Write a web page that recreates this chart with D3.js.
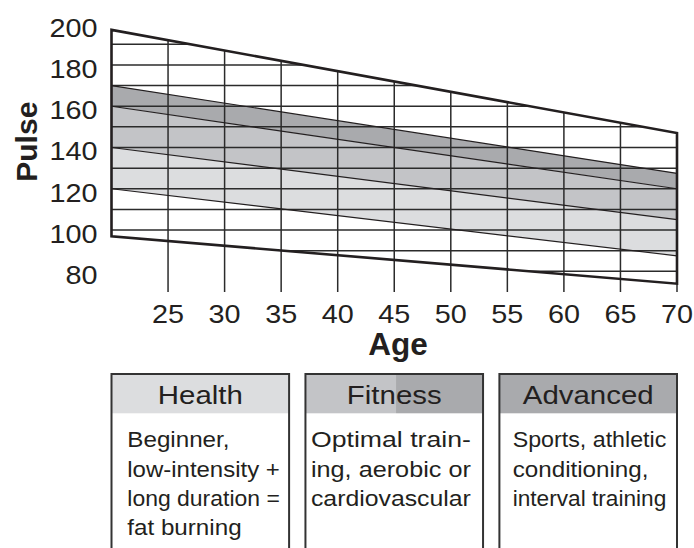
<!DOCTYPE html>
<html>
<head>
<meta charset="utf-8">
<script src="https://cdn.jsdelivr.net/npm/d3@7"></script>
<style>
  html, body { margin: 0; padding: 0; background: #fff; }
  svg { display: block; }
  text { font-family: "Liberation Sans", Arial, Helvetica, sans-serif; fill: #231f20; }
</style>
</head>
<body>
<svg id="chart" width="694" height="548"></svg>
<script>
// Training heart-rate zones by age (pulse in beats per minute)
const ages = [20, 70];
const maxPulse = [197, 147];          // upper limit line
const advancedTop = [170, 127.5];     // top of the advanced zone
const advancedFitness = [160, 120];   // advanced / fitness boundary
const fitnessHealth = [140, 105];     // fitness / health boundary
const healthBottom = [120, 87.5];     // bottom of the health zone
const minPulse = [97, 74];            // lower limit line

const xTicks = [25, 30, 35, 40, 45, 50, 55, 60, 65, 70];
const yTicks = [200, 180, 160, 140, 120, 100, 80];
const gridPulse = [190, 180, 170, 160, 150, 140, 130, 120, 110, 100, 90, 80];

const zoneNames = ["Health", "Fitness", "Advanced"];
const zoneNotes = [
  ["Beginner,", "low-intensity +", "long duration =", "fat burning"],
  ["Optimal train-", "ing, aerobic or", "cardiovascular"],
  ["Sports, athletic", "conditioning,", "interval training"]
];
// lines set flush to both margins of their box
const noteJustify = [
  [false, true, true, false],
  [true, true, true],
  [true, false, true]
];

const colors = { advanced: "#a9aaad", fitness: "#c3c4c7", health: "#dcdddf", ink: "#231f20", grid: "#2b2b2b" };

const svg = d3.select("#chart");
const x = d3.scaleLinear().domain([20, 70]).range([111.5, 677]);
const y = d3.scaleLinear().domain([80, 200]).range([271.3, 23.7]);

// helper: line value at a given age
const at = (arr) => d3.scaleLinear().domain(ages).range(arr);

const pts = (arr) => ages.map((a, i) => [x(a), y(arr[i])]);

// band between two lines
function band(top, bottom, fill) {
  const p = pts(top).concat(pts(bottom).reverse());
  svg.append("path").attr("d", "M" + p.join("L") + "Z").attr("fill", fill);
}

band(advancedTop, advancedFitness, colors.advanced);
band(advancedFitness, fitnessHealth, colors.fitness);
band(fitnessHealth, healthBottom, colors.health);

// clip region between the limit lines
const region = pts(maxPulse).concat(pts(minPulse).reverse());
svg.append("clipPath").attr("id", "zone").append("path").attr("d", "M" + region.join("L") + "Z");

// horizontal grid lines
svg.append("g").attr("clip-path", "url(#zone)")
  .selectAll("line").data(gridPulse).join("line")
  .attr("x1", x(20)).attr("x2", x(70))
  .attr("y1", d => y(d)).attr("y2", d => y(d))
  .attr("stroke", colors.grid).attr("stroke-width", 1.5);

// vertical grid lines, running down past the lower limit as tick marks
const topAt = at(maxPulse);
svg.append("g").selectAll("line").data(xTicks).join("line")
  .attr("x1", d => x(d)).attr("x2", d => x(d))
  .attr("y1", d => y(topAt(d))).attr("y2", 292)
  .attr("stroke", colors.grid).attr("stroke-width", 1.5);

// zone boundary lines
[advancedTop, advancedFitness, fitnessHealth, healthBottom].forEach(arr => {
  svg.append("path").attr("d", "M" + pts(arr).join("L"))
    .attr("stroke", colors.ink).attr("stroke-width", 1.2).attr("fill", "none");
});

// outer frame: limits and side edges
svg.append("path").attr("d", "M" + region.join("L") + "Z")
  .attr("fill", "none").attr("stroke", colors.ink).attr("stroke-width", 2.6)
  .attr("stroke-linejoin", "miter");

// horizontally stretched text helper
function label(g, tx, ty, str, opts) {
  const sx = opts.sx || 1;
  const t = g.append("text")
    .attr("transform", `translate(${tx},${ty}) scale(${sx},1)`)
    .attr("text-anchor", opts.anchor || "start")
    .attr("font-size", opts.size)
    .attr("font-weight", opts.weight || "normal")
    .text(str);
  if (opts.width) t.attr("textLength", opts.width / sx).attr("lengthAdjust", "spacingAndGlyphs");
  return t;
}

// axis tick labels
const ticks = svg.append("g");
xTicks.forEach(t => label(ticks, x(t), 323.3, t, { anchor: "middle", size: 25.5, sx: 1.13 }));
yTicks.forEach(t => label(ticks, 97.5, y(t) + 12.8, t, { anchor: "end", size: 25.5, sx: 1.13 }));

// axis titles
svg.append("text").attr("transform", "translate(36.5,141.7) rotate(-90)")
  .attr("text-anchor", "middle").attr("font-size", 30).attr("font-weight", "bold").text("Pulse");
svg.append("text").attr("x", 398).attr("y", 355)
  .attr("text-anchor", "middle").attr("font-size", 31.5).attr("font-weight", "bold").text("Age");

// zone legend boxes
const boxW = 177.6, boxGap = (x(70) - x(20) - 3 * boxW) / 2;
const boxTop = 374, headH = 39.3;
const notePadL = [15.8, 5.5, 13.3];
const notePadR = [9.3, 12.2, 10.7];
const headFills = [[colors.health], [colors.fitness, colors.advanced], [colors.advanced]];

zoneNames.forEach((name, i) => {
  const bx = x(20) + i * (boxW + boxGap);
  const g = svg.append("g");
  const fills = headFills[i];
  fills.forEach((f, k) => {
    g.append("rect")
      .attr("x", bx + k * boxW * 0.51).attr("y", boxTop)
      .attr("width", k === 0 && fills.length > 1 ? boxW * 0.51 : boxW - k * boxW * 0.51)
      .attr("height", headH).attr("fill", f);
  });
  g.append("path")
    .attr("d", `M${bx},560V${boxTop}H${bx + boxW}V560`)
    .attr("fill", "none").attr("stroke", "#333").attr("stroke-width", 2);
  label(g, bx + boxW / 2, 404.3, name, { anchor: "middle", size: 26.5, sx: 1.11 });
  const textW = boxW - notePadL[i] - notePadR[i];
  zoneNotes[i].forEach((line, j) => {
    label(g, bx + notePadL[i], 447.3 + j * 29.3, line,
      { size: 22, sx: 1.1, width: noteJustify[i][j] ? textW : null });
  });
});
</script>
</body>
</html>
